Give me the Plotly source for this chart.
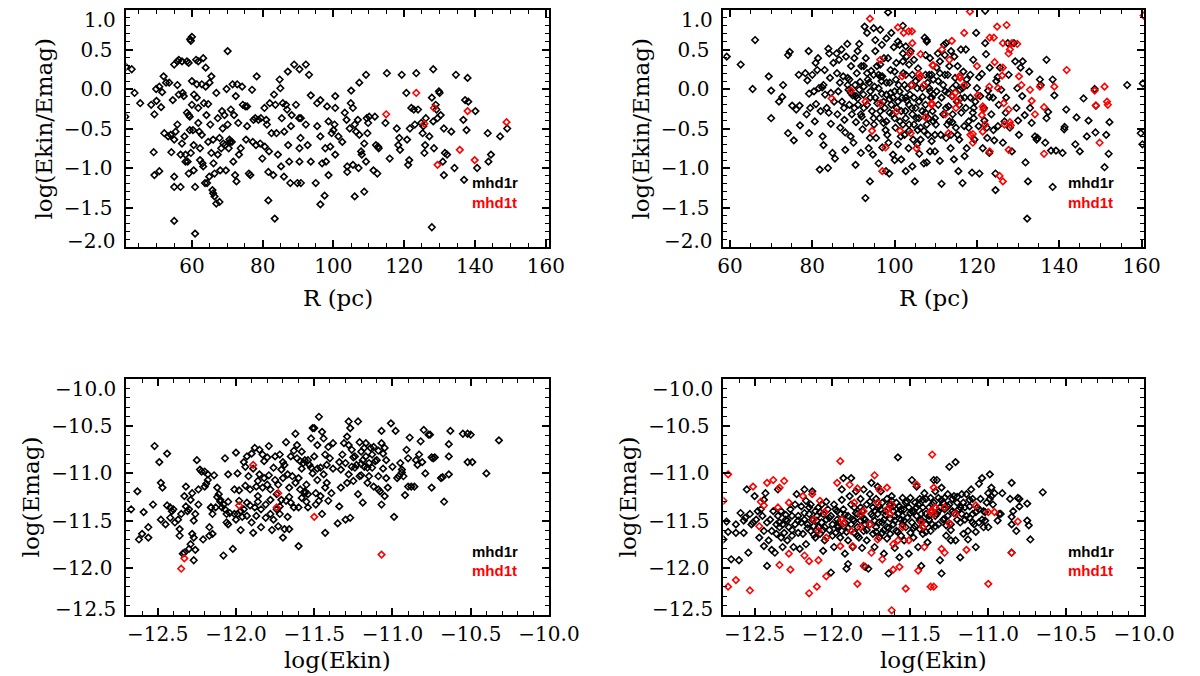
import plotly.graph_objects as go

# ---------------- data ----------------
# Top-left: R (pc) vs log(Ekin/Emag)
tl_black = [
(41.2,-0.35),(41.4,0.28),(43.0,0.25),(43.8,-0.05),(45.4,-0.18),(48.5,-0.2),(49.2,-0.8),(49.4,-0.32),(49.4,-1.09),(50.0,-0.15),
(49.9,0.0),(50.8,0.03),(50.8,-1.04),(51.3,-0.23),(51.6,-0.04),(52.0,0.16),(52.2,-0.56),(52.7,0.08),(53.3,-0.6),(53.6,0.08),
(54.0,-0.58),(54.2,-0.8),(54.6,-0.14),(55.0,0.31),(55.0,-0.64),(55.0,-1.11),(55.0,-1.24),(55.0,-1.67),(55.4,-0.54),(55.9,0.35),
(55.9,0.05),(55.9,-0.45),(56.3,0.37),(56.3,-0.07),(56.8,-0.83),(56.8,-1.24),(57.2,-0.69),(57.2,0.35),(57.4,-0.05),(57.7,-0.09),
(57.9,-0.6),(58.2,-0.83),(58.2,-0.92),(58.6,0.35),(58.6,-0.3),(58.8,-0.92),(59.1,0.33),(59.1,-0.33),(59.1,-1.07),(59.4,-0.35),
(59.4,-0.52),(59.5,0.63),(59.7,0.61),(59.7,-0.81),(60.0,0.66),(60.0,0.1),(60.0,-0.2),(60.3,-0.52),(60.5,-0.71),(60.5,-1.03),
(60.6,-0.07),(60.9,-1.83),(60.9,-1.24),(61.2,0.37),(61.4,0.06),(61.4,-0.11),(61.8,0.35),(61.8,-0.24),(61.8,-0.43),(62.1,-0.54),
(62.3,-0.75),(62.3,-0.9),(62.8,0.06),(62.8,-0.58),(63.0,-0.94),(63.2,0.39),(63.2,-0.98),(63.4,-0.18),(63.7,-1.19),(63.9,0.27),
(63.9,0.03),(64.1,-0.33),(64.3,-1.19),(64.6,-0.19),(64.6,-0.67),(64.9,-1.11),(65.0,0.08),(65.2,-0.45),(65.5,0.16),(65.5,-0.81),
(65.8,-1.28),(66.0,-0.64),(66.0,-1.32),(66.1,-0.94),(66.4,-1.07),(66.4,-1.36),(66.9,-1.45),(66.9,-0.05),(67.3,-0.37),(67.3,-0.83),
(67.8,-0.62),(67.8,-1.43),(68.0,-1.03),(68.3,-0.75),(68.5,-0.28),(68.7,-0.5),(68.9,-0.69),(69.2,-0.33),(69.4,-0.71),(69.6,-1.03),
(69.8,0.0),(70.1,0.48),(70.1,-0.45),(70.4,-0.75),(70.6,-0.64),(70.8,-0.67),(71.0,-0.26),(71.3,-0.67),(71.5,0.06),(71.7,-0.92),
(71.9,-0.33),(72.2,-1.09),(72.4,-0.09),(72.6,-1.17),(72.8,0.06),(73.1,-0.43),(73.3,-0.83),(73.8,-0.75),(74.2,0.03),(74.4,-0.2),
(75.1,-0.22),(75.3,-0.64),(75.6,-0.22),(75.6,-0.47),(76.1,-1.07),(76.5,-1.09),(77.0,-0.01),(77.2,-0.67),(77.4,-0.39),(77.9,-0.37),
(78.1,-0.71),(78.3,0.16),(78.8,-0.39),(79.3,-0.69),(79.5,-0.37),(79.9,-0.88),(80.5,-0.24),(80.6,-0.73),(81.0,-0.39),(81.2,-0.45),
(81.6,-1.05),(81.6,-1.41),(81.8,-0.79),(82.0,-0.18),(82.5,-0.56),(83.0,-1.09),(83.2,-0.07),(83.4,-1.64),(83.6,-0.2),(83.9,-0.56),
(84.3,-0.83),(84.8,0.12),(85.0,0.01),(85.2,-0.98),(85.4,-0.37),(85.7,-0.18),(86.0,-1.11),(86.1,-0.54),(86.6,-0.2),(86.9,-0.26),
(87.1,0.22),(87.2,-0.71),(87.5,-0.92),(87.8,-1.19),(88.0,-0.47),(88.2,-0.33),(88.9,0.31),(89.4,-0.2),(89.8,-1.19),(90.3,-0.37),
(90.7,-0.62),(90.4,0.25),(90.8,-0.37),(90.4,-0.92),(90.8,-1.19),(90.4,-0.75),(92.2,0.31),(93.1,0.18),(93.6,-0.08),(92.2,-0.45),
(92.7,-0.71),(93.6,-0.92),(95.0,-1.19),(95.4,-0.47),(95.4,-0.18),(96.3,-0.14),(96.3,-0.6),(96.8,-0.94),(96.3,-1.46),(97.5,-1.35),
(97.7,-0.75),(97.9,-0.92),(98.2,-0.22),(98.6,-1.09),(98.6,-0.41),(99.1,-0.73),(99.5,-0.56),(100.0,-0.52),(100.3,-0.45),(100.5,-0.09),
(100.5,-0.24),(100.5,-0.83),(101.4,-0.6),(102.5,-0.67),(103.2,-0.3),(103.7,-0.39),(103.9,-0.98),(103.9,-1.05),(104.6,-0.5),(104.9,-0.18),
(105.0,-0.02),(105.5,-0.24),(105.5,-0.96),(106.0,-1.36),(106.0,-0.45),(106.4,-0.54),(106.9,-0.39),(107.1,-1.0),(107.3,0.08),(107.3,-0.58),
(107.8,-0.79),(108.0,-0.83),(108.7,-0.69),(108.7,-1.3),(109.2,-0.92),(109.2,0.18),(109.4,-0.37),(109.6,-0.56),(109.8,-0.43),(110.1,-0.35),
(111.3,-1.03),(111.7,-0.35),(112.0,-0.71),(112.4,-1.07),(112.6,-0.73),(112.8,-0.75),(114.7,-0.43),(115.1,0.2),(115.9,-0.88),(117.9,-0.5),
(118.3,-0.71),(118.6,-0.62),(118.8,-0.77),(119.3,0.18),(120.6,-0.05),(120.8,-0.64),(121.1,-0.96),(121.4,-0.9),(121.6,-0.5),(122.0,-0.24),
(122.7,-0.26),(123.0,-0.45),(123.4,0.2),(123.9,-0.26),(124.8,-0.43),(125.2,-0.56),(125.4,-0.47),(125.7,-0.81),(125.9,-0.71),(126.1,-0.37),
(127.1,-0.6),(127.8,-0.11),(128.2,0.25),(128.2,-0.41),(128.4,-0.75),(127.8,-1.75),(128.9,-0.2),(129.1,-0.26),(129.4,-0.37),(129.8,-0.03),
(130.0,-0.05),(130.3,-0.33),(130.9,-0.92),(131.2,-1.09),(131.5,-0.81),(132.1,-0.83),(131.2,-0.5),(133.3,-0.54),(134.2,-1.0),(134.6,0.18),
(136.7,-0.39),(136.9,-1.15),(137.2,-0.14),(137.6,-0.52),(137.9,0.14),(138.1,-0.16),(140.1,-0.28),(140.6,-1.0),(143.6,-0.56),(143.8,-0.92),
(144.5,-0.83),(147.1,-0.6),(149.1,-0.5),
]
tl_red = [(123.4,-0.05),(114.9,-0.32),(125.7,-0.44),(128.4,-0.24),(137.9,-0.28),(135.7,-0.77),(139.9,-0.9),(129.4,-0.96),(148.9,-0.42)]

# Top-right: R (pc) vs log(Ekin/Emag)
tr_black = [
(59.2,0.41),(62.6,0.31),(66.1,0.62),(65.5,0.0),(69.4,0.16),(70.0,-0.02),(70.0,-0.37),(71.9,-0.16),(72.7,-0.1),(72.9,0.05),
(74.1,-0.56),(74.1,0.43),(74.5,0.47),(75.1,-0.21),(75.5,-0.65),(76.1,-0.26),(76.7,0.18),(76.9,-0.21),(77.0,-0.46),(78.3,0.2),
(78.6,-0.32),(78.8,0.11),(79.1,0.48),(79.2,-0.06),(79.2,-0.56),(79.5,-0.24),(80.0,0.18),(80.4,-0.03),(80.6,-0.41),(80.8,0.33),
(80.9,-0.19),(81.2,0.24),(81.4,0.39),(81.6,0.01),(81.8,-1.02),(82.0,-0.28),(82.4,0.02),(82.5,-0.6),(82.7,-0.71),(82.7,0.05),
(83.0,0.24),(83.1,-0.07),(83.5,-0.24),(83.8,-1.0),(83.9,0.51),(84.1,0.45),(84.3,0.14),(84.5,-0.44),(84.5,-0.05),(84.9,-0.81),
(85.1,0.33),(85.3,-0.16),(85.5,-0.88),(85.9,0.45),(86.1,-0.32),(86.3,-0.03),(86.5,0.37),(86.7,0.08),(86.8,-0.49),(87.1,0.5),
(87.2,-0.16),(87.5,0.16),(87.7,-0.24),(87.8,-0.39),(88.0,-0.77),(88.2,0.41),(88.5,0.57),(88.6,0.14),(88.8,-0.01),(89.0,-0.2),
(89.3,-0.6),(89.4,0.29),(89.6,-0.32),(89.8,-0.08),(90.0,-0.68),(90.2,0.39),(90.4,0.05),(90.5,-0.96),(90.6,-0.42),(90.8,0.2),
(91.0,0.48),(91.1,-0.2),(91.4,0.57),(91.6,0.09),(91.8,-0.81),(91.9,0.29),(92.2,-0.51),(92.4,-0.07),(92.5,-0.24),(92.7,0.79),
(92.9,-1.38),(93.0,0.39),(93.1,-0.43),(93.3,0.71),(93.5,0.12),(93.7,-0.75),(94.0,-1.17),(94.1,-0.11),(94.3,0.23),(94.5,-0.28),
(94.7,-0.83),(94.9,0.77),(95.1,0.03),(95.3,0.48),(95.5,-0.62),(95.7,0.29),(95.8,-0.18),(96.1,-0.94),(96.3,-0.37),(96.5,0.75),
(96.6,0.16),(96.9,-0.06),(97.0,-0.74),(97.3,-0.43),(97.4,0.39),(97.6,-0.24),(97.9,-1.04),(98.0,0.08),(98.2,-0.58),(98.4,0.97),
(98.7,-1.07),(98.8,-0.13),(99.0,0.24),(99.2,0.71),(99.5,-0.32),(99.6,-0.83),(99.8,0.53),(100.0,-0.03),(100.2,-0.49),(100.4,0.33),
(100.5,-0.24),(100.8,-0.7),(101.0,0.05),(101.2,0.56),(101.3,-0.41),(101.6,-0.89),(101.8,-0.11),(102.0,0.8),(102.1,0.2),(102.4,-0.58),
(102.6,-0.28),(102.7,-1.04),(102.9,0.41),(103.1,0.01),(103.4,-0.75),(103.5,-0.45),(103.7,-0.07),(103.9,0.48),(104.2,-0.24),(104.3,-0.98),
(104.5,-0.64),(104.7,0.37),(104.9,-1.17),(105.1,0.1),(105.3,-0.37),(105.5,-0.7),(105.7,0.26),(105.9,-0.16),(106.3,-0.49),(106.7,0.01),
(107.1,-0.94),(107.3,0.65),(107.5,-0.3),(107.8,0.6),(108.1,-0.58),(108.4,0.18),(108.6,-0.79),(109.0,-0.11),(109.4,-0.41),
(88.6,0.05),(89.4,-0.05),(90.6,-0.09),(91.4,-0.01),(92.5,0.03),(94.1,-0.03),(95.3,-0.11),(96.1,0.01),(97.3,-0.16),(98.0,-0.07),
(99.2,-0.2),(99.6,-0.11),(100.8,-0.16),(101.6,-0.28),(102.7,-0.11),(103.5,-0.2),(104.3,-0.32),(105.1,-0.24),(105.9,-0.37),(106.7,-0.28),
(107.5,-0.2),(108.2,-0.37),(102.7,-0.37),(102.0,-0.45),(98.0,-0.41),(96.5,-0.28),(94.9,-0.37),(93.3,-0.2),(91.8,-0.32),(90.2,-0.24),
(98.8,-0.3),(100.0,-0.37),(103.5,-0.53),(104.7,-0.45),(106.3,-0.64),(107.1,-0.53),(101.2,-0.03),(102.4,0.05),(104.7,-0.11),(98.8,0.08),
(97.0,0.16),(96.1,0.18),(94.9,0.18),(93.3,0.2),(92.5,0.29),(96.5,0.31),(100.0,0.22),(98.4,0.39),(102.7,0.18),(105.5,0.01),
(107.5,0.18),(108.6,-0.03),(109.4,0.12),(105.9,0.14),(103.5,0.31),(102.0,0.35),(96.9,0.56),(95.3,0.62),(98.0,0.64),(100.8,0.6),
(102.7,0.54),(104.3,0.18),
(91.0,-0.12),(92.0,-0.35),(93.8,0.08),(95.0,-0.45),(96.8,0.1),(97.8,-0.52),(99.0,-0.05),(100.3,0.12),(101.5,-0.6),(103.0,-0.15),
(104.0,0.05),(105.6,-0.52),(106.8,-0.1),(108.0,0.08),(110.0,-0.45),(111.0,0.2),(113.0,-0.05),(114.0,-0.42),(116.0,-0.12),(117.5,0.12),
(119.0,-0.3),(120.5,0.15),(121.8,-0.4),(123.0,-0.1),(124.0,-0.52),(125.0,0.15),(127.0,-0.3),(130.0,-0.4),(98.5,-0.68),(94.0,-0.62),
(89.0,0.12),(86.0,0.2),(84.0,-0.3),(88.0,-0.55),(102.0,0.45),(110.5,0.45),(100.0,-0.9),(106.0,-0.82),(117.0,-0.85),(122.5,-0.62),
(107.8,0.62),(107.5,0.43),(107.8,-0.45),(107.8,-0.93),(108.6,0.39),(109.0,0.18),(109.4,-0.07),(109.8,-0.37),(109.8,-0.79),(110.2,0.27),
(110.6,-0.2),(111.0,0.35),(111.0,-0.91),(111.2,-0.58),(111.4,-1.2),(111.8,0.05),(112.0,0.56),(112.2,0.43),(112.3,-0.03),(112.5,0.58),
(112.8,-0.45),(112.9,0.18),(113.1,-0.22),(113.3,0.29),(113.6,-0.75),(113.7,0.48),(113.9,-0.09),(114.1,-0.32),(114.4,-0.89),(114.5,0.41),
(114.7,0.14),(114.9,-0.49),(115.1,-0.16),(115.3,0.29),(115.5,-1.04),(115.7,-0.64),(115.9,-0.01),(116.1,0.5),(116.2,-0.3),(116.5,-1.19),
(116.7,0.22),(116.9,-0.47),(117.0,-0.11),(117.3,0.5),(117.5,-0.75),(117.6,0.05),(118.0,-0.41),(118.4,-0.11),(118.8,-1.06),(119.1,0.37),
(119.2,-0.24),(119.4,-0.64),(119.8,0.71),(120.0,0.01),(120.4,-0.47),(120.6,-1.07),(120.8,-0.09),(121.2,0.19),(121.4,-0.75),(121.7,-0.24),
(122.0,0.58),(122.2,0.44),(122.4,-0.49),(122.7,-0.02),(123.0,-0.81),(123.1,0.27),(123.5,-0.32),(123.9,-0.11),(124.2,-0.65),(124.5,-1.28),
(124.5,-1.07),(124.7,0.1),(125.1,-0.47),(125.3,-0.2),(125.6,0.27),(125.9,-0.01),(126.3,-0.68),(126.7,-0.41),(127.1,-0.11),(127.5,0.58),
(127.7,0.18),(128.0,-0.49),(128.5,-0.79),(129.0,0.58),(129.3,0.35),(129.6,-0.24),(129.8,0.01),(130.2,-0.58),(130.6,0.27),(131.0,-0.09),
(131.1,0.35),(131.6,-0.33),(131.8,-0.93),(132.4,-1.17),(132.2,-1.64),(132.7,0.22),(132.9,-0.24),(133.3,-0.43),(134.1,-0.6),(134.5,-0.64),
(134.7,-0.62),(135.3,0.12),(135.5,0.05),(136.6,-0.68),(136.9,0.37),(136.9,-0.37),(137.3,-0.29),(138.0,-0.78),(138.4,-1.24),(138.4,0.12),
(138.8,-0.08),(139.2,-0.78),(140.8,-0.81),(141.2,-0.51),(141.3,-0.48),(141.7,-0.26),(143.9,-0.7),(144.2,-0.36),(145.0,-0.79),(145.9,-0.12),
(146.7,-0.6),(147.1,-0.4),(148.6,0.0),(148.8,-0.55),(148.9,-0.21),(151.0,-0.99),(151.4,-0.58),(152.0,-0.82),(152.2,-0.42),(156.5,0.05),
(159.8,-0.56),(160.2,-0.7),(160.3,0.07),(122.0,0.99),
(108.4,0.01),(108.8,-0.11),(109.2,-0.28),(110.2,-0.03),(110.6,0.1),(111.4,-0.11),(111.8,-0.32),(112.5,-0.24),(113.3,-0.41),(113.7,-0.58),
(114.1,0.01),(114.9,0.05),(115.7,-0.2),(116.5,0.01),(117.3,-0.24),(118.0,-0.49),(118.4,0.18),(119.2,-0.37),(112.2,0.18),(109.8,-0.58),
(109.0,-0.66),(112.5,-0.62),(115.3,-0.58),(119.6,-0.16),
]
tr_red = [
(94.0,0.89),(100.8,0.78),(102.2,0.71),(103.4,0.73),(104.2,0.73),(104.3,0.58),(96.5,0.37),(103.7,0.45),(106.3,0.44),(105.9,0.19),
(106.3,0.16),(109.4,0.3),(101.8,0.16),(104.2,0.05),(107.1,0.05),(109.0,-0.2),(89.4,-0.02),(84.7,-0.12),(92.9,-0.16),(96.5,-0.18),
(100.4,-0.29),(107.5,-0.36),(94.5,-0.53),(101.3,-0.53),(103.9,-0.56),(97.8,-0.74),(105.3,-0.75),(97.0,-1.04),
(118.3,0.98),(127.2,0.81),(124.9,0.79),(123.1,0.65),(124.1,0.65),(116.9,0.71),(113.9,0.61),(111.5,0.5),(126.3,0.58),(128.5,0.58),
(129.8,0.57),(128.0,0.5),(127.7,0.45),(113.3,0.37),(109.2,0.3),(120.0,0.29),(124.3,0.34),(126.3,0.27),(141.8,0.24),(115.7,0.16),
(115.9,0.14),(126.1,0.17),(130.2,0.16),(135.3,0.03),(138.8,0.03),(116.9,0.05),(123.0,0.03),(125.1,0.01),(114.7,-0.05),(114.1,-0.09),
(115.3,-0.15),(109.0,-0.18),(120.2,-0.08),(130.8,0.05),(132.9,-0.01),(133.3,-0.15),(148.6,-0.02),(151.0,0.03),(151.6,-0.16),(151.8,-0.2),
(148.9,-0.21),(136.3,-0.23),(121.4,-0.22),(121.6,-0.26),(126.5,-0.18),(127.7,-0.26),(134.1,-0.32),(114.9,-0.24),(112.3,-0.32),(121.2,-0.33),
(122.0,-0.45),(126.7,-0.45),(128.0,-0.42),(128.2,-0.46),(113.1,-0.56),(118.4,-0.58),(119.0,-0.57),(121.4,-0.54),(119.0,-0.68),(149.8,-0.68),
(127.7,-0.77),(123.1,-0.79),(136.3,-0.82),(125.5,-1.1),(126.3,-1.17),(160.5,0.93),
]

# Bottom-left: log(Ekin) vs log(Emag)
bl_black = [
(-12.67,-11.38),(-12.63,-11.19),(-12.62,-11.7),(-12.6,-11.64),(-12.59,-11.41),(-12.56,-11.57),(-12.56,-11.68),(-12.53,-11.33),(-12.52,-10.71),(-12.49,-10.88),
(-12.48,-11.49),(-12.48,-11.1),(-12.47,-11.15),(-12.45,-11.54),(-12.44,-10.79),(-12.44,-11.34),(-12.42,-11.36),(-12.42,-11.47),(-12.41,-11.4),(-12.4,-11.38),
(-12.39,-11.52),(-12.37,-11.49),(-12.36,-11.59),(-12.36,-11.66),(-12.35,-11.43),(-12.34,-11.85),(-12.33,-11.84),(-12.33,-11.24),(-12.32,-11.14),(-12.32,-11.35),
(-12.31,-11.4),(-12.3,-11.8),(-12.3,-11.38),(-12.29,-11.75),(-12.29,-11.28),(-12.28,-11.21),(-12.28,-11.64),(-12.27,-11.68),(-12.27,-11.92),(-12.27,-11.5),
(-12.26,-11.81),(-12.26,-11.43),(-12.25,-10.86),(-12.24,-11.17),(-12.24,-11.33),(-12.23,-10.96),(-12.22,-10.98),(-12.21,-11.7),(-12.2,-11.14),(-12.2,-10.98),
(-12.19,-11.11),(-12.18,-11.01),(-12.18,-11.07),(-12.17,-11.66),(-12.17,-11.57),(-12.16,-11.36),(-12.16,-11.36),(-12.15,-11.64),(-12.15,-11.43),(-12.14,-11.02),
(-12.13,-11.36),(-12.12,-11.15),(-12.11,-11.22),(-12.1,-11.28),(-12.1,-11.3),(-12.09,-11.36),(-12.08,-11.87),(-12.08,-11.33),(-12.07,-10.84),(-12.07,-11.38),
(-12.06,-11.43),(-12.06,-11.52),(-12.05,-11.01),(-12.05,-11.54),(-12.04,-11.42),(-12.02,-11.8),(-12.01,-11.17),(-12.01,-11.43),(-12.0,-11.49),(-12.0,-10.78),
(-11.99,-11.0),(-11.99,-11.43),(-11.98,-11.29),(-11.97,-11.6),(-11.97,-11.4),(-11.96,-11.46),(-11.95,-10.88),(-11.95,-11.38),(-11.94,-11.13),(-11.94,-10.93),
(-11.93,-10.82),(-11.93,-11.31),(-11.92,-11.03),(-11.91,-11.17),(-11.91,-11.34),(-11.9,-11.52),(-11.9,-10.79),(-11.89,-11.63),(-11.89,-10.95),(-11.88,-11.36),
(-11.88,-10.73),(-11.87,-11.14),(-11.87,-11.45),(-11.86,-11.08),(-11.86,-11.24),(-11.85,-11.01),(-11.85,-10.75),(-11.84,-11.38),(-11.84,-11.57),(-11.83,-10.8),
(-11.83,-11.15),(-11.82,-11.05),(-11.82,-10.87),(-11.81,-11.33),(-11.81,-11.47),(-11.8,-11.12),(-11.8,-10.83),(-11.79,-11.02),(-11.79,-10.71),(-11.78,-11.43),
(-11.78,-11.28),(-11.77,-11.6),(-11.76,-11.49),(-11.76,-10.94),(-11.75,-10.82),(-11.75,-11.07),(-11.74,-11.38),(-11.74,-11.22),(-11.73,-11.56),(-11.73,-11.12),
(-11.72,-10.8),(-11.72,-11.43),(-11.71,-11.28),(-11.71,-10.96),(-11.7,-11.68),(-11.7,-11.05),(-11.69,-10.91),(-11.69,-11.59),(-11.68,-11.29),(-11.68,-10.67),
(-11.67,-11.46),(-11.67,-11.01),(-11.66,-11.15),(-11.66,-11.59),(-11.65,-10.82),(-11.65,-11.31),(-11.64,-11.03),(-11.63,-10.76),(-11.63,-11.36),(-11.62,-10.58),
(-11.62,-11.1),(-11.61,-10.84),(-11.61,-10.7),(-11.6,-11.77),(-11.6,-11.36),(-11.59,-11.17),(-11.59,-10.87),(-11.58,-10.77),(-11.58,-11.26),(-11.57,-10.89),
(-11.56,-11.21),(-11.56,-11.19),(-11.56,-10.86),(-11.55,-11.12),(-11.54,-10.86),(-11.54,-11.36),(-11.54,-11.22),(-11.53,-10.91),(-11.52,-10.94),(-11.52,-10.63),
(-11.51,-10.52),(-11.51,-11.0),(-11.5,-10.82),(-11.5,-10.52),(-11.49,-11.21),(-11.49,-11.33),(-11.48,-10.7),(-11.48,-11.07),(-11.47,-11.29),(-11.47,-10.4),
(-11.46,-11.24),(-11.46,-10.94),(-11.45,-11.43),(-11.45,-10.56),(-11.44,-10.63),(-11.44,-11.01),(-11.43,-10.8),(-11.43,-11.63),(-11.42,-11.1),(-11.42,-10.91),
(-11.41,-11.29),(-11.41,-10.72),(-11.4,-10.84),(-11.39,-11.21),(-11.38,-10.68),
(-11.35,-11.53),(-11.34,-11.35),(-11.33,-11.15),(-11.33,-10.96),(-11.32,-10.8),(-11.31,-10.68),(-11.3,-10.89),(-11.3,-11.49),(-11.29,-11.1),(-11.29,-10.61),
(-11.28,-11.01),(-11.28,-10.45),(-11.27,-10.52),(-11.27,-11.47),(-11.26,-10.93),(-11.26,-10.75),(-11.25,-11.08),(-11.25,-10.83),(-11.24,-10.94),(-11.24,-10.82),
(-11.23,-10.91),(-11.22,-11.22),(-11.22,-10.45),(-11.21,-11.03),(-11.21,-10.67),(-11.2,-10.77),(-11.2,-11.02),(-11.19,-11.31),(-11.19,-10.86),(-11.18,-10.93),
(-11.18,-10.73),(-11.17,-10.82),(-11.17,-10.68),(-11.16,-10.94),(-11.16,-11.1),(-11.15,-10.89),(-11.15,-11.03),(-11.14,-10.73),(-11.13,-10.8),(-11.13,-10.94),
(-11.12,-11.14),(-11.11,-10.87),(-11.1,-10.86),(-11.09,-11.03),(-11.09,-11.17),(-11.09,-10.76),(-11.08,-11.19),(-11.07,-11.33),(-11.07,-10.68),(-11.07,-10.55),
(-11.06,-10.79),(-11.05,-11.24),(-11.05,-10.73),(-11.04,-11.05),(-11.04,-10.86),(-11.03,-11.15),(-11.01,-10.47),(-11.0,-10.93),(-10.99,-11.46),(-10.98,-10.55),
(-10.97,-11.05),(-10.96,-11.03),(-10.95,-10.89),(-10.94,-10.99),(-10.94,-10.96),(-10.93,-11.03),(-10.92,-11.23),(-10.91,-10.75),(-10.9,-10.84),(-10.9,-11.14),
(-10.89,-10.62),(-10.88,-11.14),(-10.86,-11.14),(-10.85,-10.86),(-10.84,-10.91),(-10.83,-10.8),(-10.82,-10.66),(-10.81,-10.88),(-10.8,-10.54),(-10.79,-11.0),
(-10.77,-10.59),(-10.76,-10.59),(-10.75,-10.83),(-10.75,-11.15),(-10.74,-10.84),(-10.73,-10.83),(-10.69,-11.05),(-10.68,-11.04),(-10.67,-11.3),(-10.64,-10.69),
(-10.64,-10.82),(-10.64,-11.01),(-10.63,-10.55),(-10.55,-10.58),(-10.52,-10.58),(-10.5,-10.59),(-10.52,-10.88),(-10.49,-10.88),(-10.4,-11.0),(-10.32,-10.65),
(-12.12,-11.25),(-12.05,-11.3),(-11.98,-11.18),(-11.93,-11.45),(-11.86,-11.3),(-11.78,-11.17),(-11.72,-11.35),(-11.66,-11.25),(-11.6,-11.05),(-11.55,-11.3),
(-11.48,-10.95),(-11.43,-11.15),(-11.38,-10.95),(-11.34,-10.88),(-11.28,-10.7),(-11.2,-10.9),(-11.12,-10.72),(-11.06,-10.95),(-11.58,-10.95),(-11.7,-10.88),
]
bl_red = [(-12.35,-12.01),(-12.33,-11.9),(-11.98,-11.34),(-11.89,-10.91),(-11.74,-11.36),(-11.73,-11.21),(-11.5,-11.46),(-11.07,-11.86)]

# Bottom-right: log(Ekin) vs log(Emag)
br_black = [
(-12.7,-11.7),(-12.68,-11.51),(-12.67,-11.62),(-12.65,-11.91),(-12.62,-11.63),(-12.62,-11.54),(-12.6,-11.92),(-12.59,-11.42),(-12.57,-11.63),(-12.57,-11.5),
(-12.56,-11.47),(-12.55,-11.17),(-12.54,-11.84),(-12.53,-11.43),(-12.52,-11.54),(-12.51,-11.52),(-12.5,-11.24),(-12.49,-11.49),(-12.48,-11.4),(-12.47,-11.68),
(-12.46,-11.38),(-12.45,-11.45),(-12.44,-11.61),(-12.44,-11.77),(-12.44,-11.28),(-12.43,-11.21),(-12.42,-11.98),(-12.42,-11.52),(-12.41,-11.71),(-12.4,-11.49),
(-12.39,-11.61),(-12.39,-11.81),(-12.38,-11.4),(-12.37,-11.84),(-12.36,-11.54),(-12.36,-11.64),(-12.35,-11.17),(-12.35,-11.45),(-12.34,-11.57),(-12.33,-11.68),
(-12.33,-11.4),(-12.32,-11.54),(-12.32,-11.78),(-12.31,-11.63),(-12.3,-11.49),(-12.29,-11.71),(-12.29,-11.5),(-12.28,-11.57),(-12.27,-11.38),(-12.26,-11.66),
(-12.26,-11.45),(-12.25,-11.78),(-12.24,-11.33),(-12.24,-11.54),(-12.23,-11.22),(-12.22,-11.63),(-12.22,-11.45),(-12.21,-11.8),(-12.2,-11.52),(-12.2,-11.35),
(-12.19,-11.64),(-12.18,-11.49),(-12.18,-11.17),(-12.17,-11.29),(-12.17,-11.75),(-12.16,-11.54),(-12.15,-11.43),(-12.15,-11.36),(-12.14,-11.61),(-12.13,-11.49),
(-12.13,-11.19),(-12.12,-11.56),(-12.11,-11.68),(-12.11,-11.4),(-12.1,-11.45),(-12.09,-11.57),(-12.09,-11.36),(-12.08,-11.64),(-12.07,-11.52),(-12.07,-11.33),
(-12.06,-11.82),(-12.06,-11.43),(-12.05,-11.57),(-12.05,-11.71),(-12.04,-11.49),(-12.03,-11.38),(-12.02,-11.6),(-12.01,-12.05),(-12.01,-11.45),(-12.0,-11.54),
(-11.99,-11.33),(-11.99,-11.78),(-11.98,-11.63),(-11.97,-11.49),(-11.97,-11.4),(-11.96,-11.56),(-11.95,-11.68),(-11.95,-11.43),(-11.94,-11.17),(-11.94,-11.61),
(-11.93,-11.05),(-11.93,-11.38),(-11.92,-11.85),(-11.92,-11.52),(-11.91,-12.01),(-11.9,-11.45),(-11.9,-11.71),(-11.9,-11.96),(-11.89,-11.24),(-11.88,-11.54),
(-11.88,-11.05),(-11.87,-11.78),(-11.87,-11.49),(-11.86,-11.63),(-11.86,-11.36),(-11.85,-11.19),(-11.84,-11.57),(-11.84,-11.43),(-11.83,-11.68),(-11.82,-11.5),
(-11.82,-11.27),(-11.81,-11.79),(-11.81,-11.4),(-11.8,-11.17),(-11.8,-11.61),(-11.79,-11.99),(-11.79,-11.49),(-11.78,-11.33),(-11.78,-11.71),(-11.77,-12.01),
(-11.76,-11.54),(-11.76,-11.22),(-11.75,-11.43),(-11.75,-11.1),(-11.74,-11.64),(-11.74,-11.36),(-11.73,-11.5),(-11.73,-11.78),(-11.72,-11.27),(-11.72,-11.57),
(-11.71,-11.43),(-11.71,-11.14),(-11.7,-11.68),(-11.7,-11.52),(-11.69,-11.19),(-11.69,-11.38),(-11.68,-11.63),(-11.68,-11.31),(-11.67,-11.49),(-11.67,-11.85),
(-11.66,-11.4),(-11.65,-11.57),(-11.65,-11.27),(-11.65,-11.69),(-11.64,-12.06),(-11.63,-11.48),(-11.63,-11.33),(-11.63,-11.64),(-11.62,-11.24),(-11.61,-11.54),
(-11.61,-11.4),(-11.6,-11.79),(-11.6,-11.5),(-11.59,-11.31),(-11.59,-11.61),(-11.58,-10.83),(-11.58,-11.43),(-11.57,-11.89),(-11.57,-11.35),(-11.56,-11.66),
(-11.56,-11.49),(-11.55,-11.26),(-11.55,-11.54),(-11.54,-11.71),(-11.54,-11.38),(-11.53,-11.57),(-11.53,-11.31),(-11.52,-11.47),(-11.51,-11.85),(-11.51,-11.36),
(-11.5,-11.63),(-11.5,-11.26),(-11.49,-11.52),(-11.49,-11.07),(-11.48,-11.41),(-11.48,-11.68),(-11.47,-11.31),(-11.47,-11.56),(-11.46,-11.14),(-11.46,-11.45),
(-11.45,-11.78),(-11.45,-11.33),(-11.44,-11.59),(-11.44,-11.27),(-11.43,-11.49),(-11.43,-11.98),(-11.42,-11.36),(-11.42,-11.64),(-11.41,-11.21),(-11.4,-11.43),
(-11.4,-11.54),(-11.4,-11.27),(-11.39,-11.73),(-11.38,-11.36),(-11.38,-11.49),(-11.37,-11.26),(-11.37,-11.61),(-11.36,-11.4),(-11.36,-11.54),(-11.35,-11.31),
(-11.35,-11.07),(-11.34,-11.45),
(-11.34,-11.19),(-11.33,-11.43),(-11.33,-11.07),(-11.32,-11.26),(-11.32,-11.54),(-11.31,-11.92),(-11.31,-11.36),(-11.3,-11.15),(-11.3,-12.06),(-11.29,-11.31),
(-11.29,-11.49),(-11.28,-11.26),(-11.28,-11.38),(-11.27,-11.66),(-11.27,-11.55),(-11.26,-11.22),(-11.26,-11.45),(-11.25,-10.93),(-11.25,-11.33),(-11.24,-11.54),
(-11.24,-11.71),(-11.23,-11.27),(-11.23,-11.4),(-11.22,-11.24),(-11.21,-10.88),(-11.21,-11.71),(-11.2,-11.49),(-11.2,-11.31),(-11.19,-11.38),(-11.18,-11.89),
(-11.18,-11.52),(-11.17,-11.22),(-11.17,-11.43),(-11.16,-11.64),(-11.16,-11.31),(-11.15,-11.49),(-11.15,-11.36),(-11.14,-11.22),(-11.13,-11.61),(-11.13,-11.7),
(-11.12,-11.47),(-11.12,-11.35),(-11.11,-11.17),(-11.1,-11.43),(-11.1,-11.27),(-11.09,-11.54),(-11.08,-11.41),(-11.08,-11.78),(-11.08,-11.62),(-11.07,-11.36),
(-11.06,-11.11),(-11.06,-11.52),(-11.05,-11.27),(-11.04,-11.05),(-11.04,-11.49),(-11.03,-11.4),(-11.03,-11.57),(-11.02,-11.41),(-11.01,-11.31),(-11.0,-11.21),
(-11.0,-11.57),(-10.99,-11.27),(-10.99,-11.01),(-10.98,-11.15),(-10.98,-11.24),(-10.97,-11.33),(-10.96,-11.21),(-10.94,-11.5),(-10.93,-11.43),(-10.92,-11.43),
(-10.91,-11.21),(-10.86,-11.27),(-10.85,-11.46),(-10.85,-11.54),(-10.85,-11.1),(-10.84,-11.4),(-10.82,-11.61),(-10.81,-11.26),(-10.8,-11.27),(-10.8,-11.35),
(-10.75,-11.32),(-10.75,-11.5),(-10.74,-11.55),(-10.73,-11.7),(-10.65,-11.2),(-10.85,-11.84),
(-12.18,-11.42),(-12.16,-11.58),(-12.14,-11.33),(-12.12,-11.65),(-12.1,-11.5),(-12.08,-11.41),(-12.06,-11.6),(-12.04,-11.3),(-12.02,-11.47),(-12.0,-11.66),
(-11.98,-11.38),(-11.96,-11.52),(-11.94,-11.28),(-11.92,-11.44),(-11.9,-11.58),(-11.88,-11.33),(-11.86,-11.5),(-11.84,-11.66),(-11.82,-11.36),(-11.8,-11.48),
(-11.78,-11.6),(-11.76,-11.3),(-11.74,-11.45),(-11.72,-11.62),(-11.7,-11.35),(-11.68,-11.52),(-11.66,-11.44),(-11.64,-11.58),(-11.62,-11.29),(-11.6,-11.45),
(-11.58,-11.62),(-11.56,-11.38),(-11.54,-11.5),(-11.52,-11.3),(-11.5,-11.42),(-11.48,-11.58),(-11.46,-11.36),(-11.44,-11.5),(-11.42,-11.28),(-11.4,-11.62),
(-11.38,-11.45),(-11.36,-11.33),(-11.34,-11.56),(-11.32,-11.4),(-11.3,-11.28),(-11.28,-11.48),(-11.26,-11.35),(-11.24,-11.6),(-11.22,-11.42),(-11.2,-11.25),
(-11.18,-11.36),(-11.14,-11.45),(-11.12,-11.28),(-11.1,-11.52),(-11.06,-11.38),(-11.02,-11.5),(-12.22,-11.5),(-12.26,-11.6),(-12.3,-11.44),(-12.34,-11.52),
(-11.97,-11.56),(-11.91,-11.62),(-11.85,-11.42),(-11.79,-11.54),(-11.73,-11.4),(-11.67,-11.6),(-11.61,-11.35),(-11.55,-11.45),(-11.49,-11.4),(-11.43,-11.43),
]
br_red = [
(-12.7,-11.29),(-12.67,-11.01),(-12.67,-12.2),(-12.62,-12.13),(-12.53,-12.24),(-12.51,-11.14),(-12.47,-11.56),(-12.46,-11.3),(-12.44,-11.34),(-12.42,-11.1),
(-12.38,-11.07),(-12.34,-11.15),(-12.31,-11.08),(-12.35,-11.36),(-12.28,-11.31),(-12.34,-11.97),(-12.27,-12.02),(-12.28,-11.85),(-12.19,-11.24),(-12.18,-11.87),
(-12.15,-11.93),(-12.15,-12.27),(-12.13,-11.22),(-12.12,-11.49),(-12.1,-12.2),(-12.09,-11.92),(-12.09,-11.61),(-12.08,-11.29),(-12.05,-11.41),(-12.04,-12.09),
(-12.04,-11.68),(-11.97,-11.1),(-11.95,-10.87),(-11.95,-11.77),(-11.94,-11.49),(-11.93,-11.53),(-11.89,-11.12),(-11.88,-11.61),(-11.87,-11.77),(-11.86,-11.31),
(-11.84,-11.16),(-11.84,-12.17),(-11.82,-11.43),(-11.82,-11.57),(-11.8,-11.98),(-11.8,-11.4),(-11.76,-11.54),(-11.75,-11.84),(-11.73,-11.02),(-11.71,-11.7),
(-11.71,-11.31),(-11.7,-11.17),(-11.68,-11.91),(-11.65,-11.15),(-11.65,-11.38),(-11.63,-11.43),(-11.62,-11.33),(-11.62,-12.45),(-11.61,-11.75),(-11.61,-12.02),
(-11.58,-11.71),(-11.57,-11.99),(-11.55,-11.57),(-11.53,-12.22),(-11.51,-11.71),(-11.46,-11.12),(-11.45,-12.03),(-11.43,-11.52),(-11.42,-11.57),(-11.41,-11.78),
(-11.37,-11.4),(-11.35,-12.2),
(-11.36,-10.8),(-11.35,-11.15),(-11.34,-11.36),(-11.37,-11.41),(-11.35,-11.43),(-11.3,-11.8),(-11.28,-11.84),(-11.28,-11.36),(-11.25,-11.53),(-11.21,-11.43),
(-11.14,-11.81),(-11.08,-11.34),(-11.0,-11.41),(-10.96,-11.41),(-10.81,-11.51),(-10.85,-11.84),(-11.37,-12.2),(-11.0,-12.17),
]

x_ticks_r = [60, 80, 100, 120, 140, 160]
x_ticks_e = [-12.5, -12.0, -11.5, -11.0, -10.5, -10.0]
y_ticks_ratio = [-2.0, -1.5, -1.0, -0.5, 0.0, 0.5, 1.0]
y_ticks_emag = [-12.5, -12.0, -11.5, -11.0, -10.5, -10.0]
legend_names = ["mhd1r", "mhd1t"]
x_titles = ["R (pc)", "R (pc)", "log(Ekin)", "log(Ekin)"]
y_titles = ["log(Ekin/Emag)", "log(Ekin/Emag)", "log(Emag)", "log(Emag)"]

# ---------------- figure ----------------
W, H = 1200, 676
BLACK, RED = "#000000", "#ff0000"
SERIF = "DejaVu Serif"

def fmt(v):
    s = f"{v:.1f}"
    return s.replace("-", "\u2212")

fig = go.Figure()
panels = [
    (tl_black, tl_red, "x", "y"),
    (tr_black, tr_red, "x2", "y2"),
    (bl_black, bl_red, "x3", "y3"),
    (br_black, br_red, "x4", "y4"),
]
for blk, red, xa, ya in panels:
    for pts, col, name in ((blk, BLACK, legend_names[0]), (red, RED, legend_names[1])):
        xs, ys = zip(*pts)
        fig.add_trace(go.Scatter(
            x=list(xs), y=list(ys), mode="markers", xaxis=xa, yaxis=ya, name=name,
            showlegend=False,
            marker=dict(symbol="diamond-open", size=5, color=col, line=dict(width=1.6, color=col)),
        ))

left_dom = [116 / W, 552 / W]
right_dom = [732 / W, 1166 / W]
top_dom = [1 - 239 / H, 1 - 2 / H]
bot_dom = [1 - 607 / H, 1 - 371 / H]

def xaxis(dom, rng, tv, minor_dt, anchor, fmtf):
    return dict(domain=dom, range=rng, anchor=anchor, tickmode="array", tickvals=tv,
                ticktext=[fmtf(v) for v in tv],
                ticks="inside", ticklen=7, tickwidth=1.5, tickcolor="black",
                minor=dict(ticks="inside", ticklen=4, tickwidth=1.2, tickcolor="black", tickmode="linear", dtick=minor_dt, tick0=0),
                showline=True, linewidth=2, linecolor="black", mirror="ticks",
                showgrid=False, zeroline=False, ticklabelstandoff=0,
                tickfont=dict(family=SERIF, size=20, color="black"))

def yaxis(dom, rng, tv, anchor):
    txt = [fmt(v) for v in tv]
    txt[0] = ""
    txt[-1] = ""
    return dict(domain=dom, range=rng, anchor=anchor, tickmode="array", tickvals=tv, ticktext=txt,
                ticks="inside", ticklen=7, tickwidth=1.5, tickcolor="black",
                minor=dict(ticks="inside", ticklen=4, tickwidth=1.2, tickcolor="black", tickmode="linear", dtick=0.1, tick0=0),
                showline=True, linewidth=2, linecolor="black", mirror="ticks",
                showgrid=False, zeroline=False, ticklabelstandoff=8,
                tickfont=dict(family=SERIF, size=20, color="black"))

fr = lambda v: str(int(v))
fig.update_layout(
    width=W, height=H, margin=dict(l=0, r=0, t=0, b=0),
    paper_bgcolor="white", plot_bgcolor="white", showlegend=False,
    xaxis=xaxis(left_dom, [41.5, 160.9], x_ticks_r, 5, "y", fr),
    yaxis=yaxis(top_dom, [-2.0, 1.0], y_ticks_ratio, "x"),
    xaxis2=xaxis(right_dom, [58.4, 160.6], x_ticks_r, 5, "y2", fr),
    yaxis2=yaxis(top_dom, [-2.0, 1.0], y_ticks_ratio, "x2"),
    xaxis3=xaxis(left_dom, [-12.7, -10.0], x_ticks_e, 0.1, "y3", fmt),
    yaxis3=yaxis(bot_dom, [-12.5, -10.0], y_ticks_emag, "x3"),
    xaxis4=xaxis(right_dom, [-12.7, -10.0], x_ticks_e, 0.1, "y4", fmt),
    yaxis4=yaxis(bot_dom, [-12.5, -10.0], y_ticks_emag, "x4"),
)

ann = []
suffix = ["", "2", "3", "4"]
yends = [(y_ticks_ratio[-1], y_ticks_ratio[0])] * 2 + [(y_ticks_emag[-1], y_ticks_emag[0])] * 2
ytitle_x = [30, 646, 18, 634]
for i, s in enumerate(suffix):
    xr = "x" + s + " domain"
    yr = "y" + s
    top_v, bot_v = yends[i]
    ann.append(dict(text=fmt(top_v), xref=xr, yref=yr, x=0, y=top_v, xanchor="right", yanchor="middle",
                    xshift=-8, yshift=-10, showarrow=False, font=dict(family=SERIF, size=20, color="black")))
    ann.append(dict(text=fmt(bot_v), xref=xr, yref=yr, x=0, y=bot_v, xanchor="right", yanchor="middle",
                    xshift=-8, yshift=6, showarrow=False, font=dict(family=SERIF, size=20, color="black")))
    # axis titles
    is_top = i < 2
    ann.append(dict(text=x_titles[i], xref=xr, yref="paper", x=0.5, y=1 - (290 if is_top else 652) / H,
                    xanchor="center", yanchor="middle", showarrow=False,
                    font=dict(family=SERIF, size=23, color="black")))
    ann.append(dict(text=y_titles[i], xref="paper", yref="y" + s + " domain", x=ytitle_x[i] / W, y=0.5, textangle=-90,
                    xanchor="center", yanchor="middle", showarrow=False,
                    font=dict(family=SERIF, size=23, color="black")))
    # legend labels
    lx = 470 if i % 2 == 0 else 1085
    ly1, ly2 = (174, 194) if is_top else (543, 562)
    for txt, col, ly in ((legend_names[0], BLACK, ly1), (legend_names[1], RED, ly2)):
        ann.append(dict(text=txt, xref="paper", yref="paper", x=lx / W, y=1 - ly / H,
                        xanchor="left", yanchor="middle", showarrow=False,
                        font=dict(family="Liberation Sans", size=15, color=col, weight="bold")))
fig.update_layout(annotations=ann)

fig.write_html("out.html")
